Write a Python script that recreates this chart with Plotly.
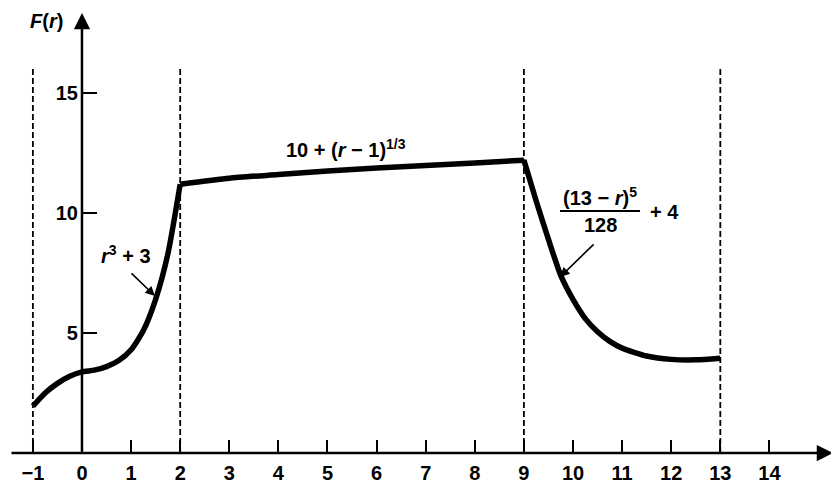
import plotly.graph_objects as go

# values
r_cubic = [-1, -0.75, -0.5, -0.25, 0, 0.25, 0.5, 0.75, 1, 1.25, 1.5, 1.75, 2]
f_cubic = [1.95, 2.5, 2.9, 3.2, 3.38, 3.45, 3.6, 3.85, 4.3, 5.1, 6.4, 8.3, 11.2]

r_root = [2, 3, 4, 5, 6, 7, 8, 9]
f_root = [11.2, 11.45, 11.6, 11.75, 11.87, 11.98, 12.08, 12.2]

r_decay = [9, 9.25, 9.5, 9.75, 10, 10.25, 10.5, 10.75, 11, 11.5, 12, 12.5, 13]
f_decay = [12.2, 10.5, 8.9, 7.4, 6.4, 5.6, 5.05, 4.65, 4.37, 4.04, 3.9, 3.88, 3.95]

breaks = [-1, 2, 9, 13]
break_top = 16.1

x_ticks = list(range(-1, 15))
x_labels = ["\u22121"] + [str(v) for v in range(0, 15)]
y_ticks = [5, 10, 15]

x_min, x_max = -1.466, 15.295
y_min, y_max = 0, 18.33

font = dict(family="Liberation Sans", size=20, color="black", weight="bold")

fig = go.Figure()

# dashed boundaries
bx, by = [], []
for b in breaks:
    bx += [b, b, None]
    by += [0, break_top, None]
fig.add_trace(go.Scatter(x=bx, y=by, mode="lines",
                         line=dict(color="black", width=1.8, dash="6px,3px"),
                         hoverinfo="skip"))

for xs, ys in [(r_cubic, f_cubic), (r_root, f_root), (r_decay, f_decay)]:
    fig.add_trace(go.Scatter(x=xs, y=ys, mode="lines",
                             line=dict(color="black", width=5.5, shape="spline", smoothing=0.6)))

ann = []
# axes with arrows
ann.append(dict(x=x_max, y=0, ax=x_min, ay=0, xref="x", yref="y", axref="x", ayref="y",
                text="", showarrow=True, arrowhead=2, arrowsize=1.3, arrowwidth=2.5,
                arrowcolor="black", standoff=0))
ann.append(dict(x=0, y=y_max, ax=0, ay=0, xref="x", yref="y", axref="x", ayref="y",
                text="", showarrow=True, arrowhead=2, arrowsize=1.3, arrowwidth=2.5,
                arrowcolor="black", standoff=0))
ann.append(dict(x=-0.72, y=18.0, text="<i>F</i>(<i>r</i>)", showarrow=False, font=font))
ann.append(dict(x=14.97, y=-0.92, text="<i>r</i>", showarrow=False, font=font))

# formula labels
ann.append(dict(x=0.896, y=8.25, text="<i>r</i><sup>3</sup> + 3", showarrow=False, font=font))
ann.append(dict(x=1.487, y=6.54, ax=0.978, ay=7.54, axref="x", ayref="y", text="",
                showarrow=True, arrowhead=2, arrowsize=1.2, arrowwidth=1.6, arrowcolor="black"))
ann.append(dict(x=5.38, y=12.67, text="10 + (<i>r</i> \u2212 1)<sup>1/3</sup>",
                showarrow=False, font=font))
ann.append(dict(x=10.55, y=10.7, text="(13 \u2212 <i>r</i>)<sup>5</sup>", showarrow=False, font=font))
ann.append(dict(x=10.55, y=9.5, text="128", showarrow=False, font=font))
ann.append(dict(x=11.87, y=10.04, text="+ 4", showarrow=False, font=font))
ann.append(dict(x=9.735, y=7.33, ax=10.45, ay=8.75, axref="x", ayref="y", text="",
                showarrow=True, arrowhead=2, arrowsize=1.2, arrowwidth=1.6, arrowcolor="black"))

# the page puts the figure 8px in from the top-left corner
fig.update_layout(
    width=831, height=482,
    margin=dict(l=2, r=6, t=5, b=37),
    paper_bgcolor="white", plot_bgcolor="white",
    showlegend=False,
    annotations=ann,
    shapes=[dict(type="line", xref="x", yref="y", x0=9.735, x1=11.365, y0=10.08, y1=10.08,
                 line=dict(color="black", width=2))],
    xaxis=dict(range=[x_min, x_max], tickvals=x_ticks, ticktext=x_labels,
               ticks="inside", ticklen=13, tickwidth=1.5, tickcolor="black",
               showgrid=False, zeroline=False, showline=False,
               tickfont=font, ticklabelstandoff=6),
    yaxis=dict(range=[y_min, y_max], tickvals=y_ticks, anchor="free",
               position=(0 - x_min) / (x_max - x_min),
               ticks="inside", ticklen=14, tickwidth=1.5, tickcolor="black",
               showgrid=False, zeroline=False, showline=False,
               tickfont=font, ticklabelstandoff=4),
)

fig.write_html("out.html")
